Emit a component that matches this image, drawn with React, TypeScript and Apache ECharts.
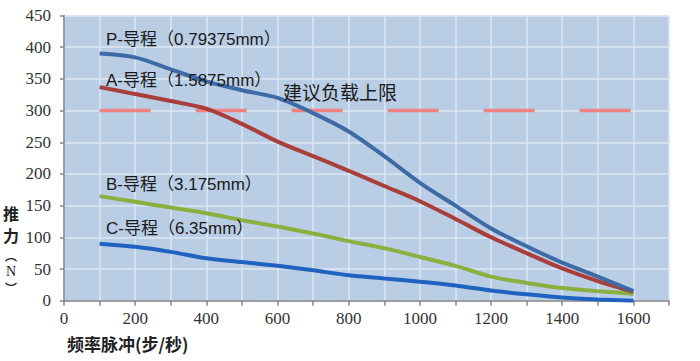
import React, { useEffect, useRef } from "react";
import * as echarts from "echarts";

const xValues = [100, 200, 300, 400, 500, 600, 700, 800, 900, 1000, 1100, 1200, 1300, 1400, 1500, 1600];
const seriesP = [390, 384, 365, 346, 332, 320, 296, 267, 228, 186, 150, 114, 86, 60, 38, 15];
const seriesA = [337, 326, 315, 303, 279, 251, 228, 205, 181, 157, 129, 100, 75, 51, 31, 14];
const seriesB = [165, 156, 147, 138, 127, 117, 106, 94, 83, 69, 55, 38, 28, 20, 15, 11];
const seriesC = [90, 85, 77, 67, 61, 55, 48, 40, 35, 30, 24, 16, 10, 5, 2, 0];
const limitX = [100, 1600];
const limitY = [300, 300];

const seriesNames = ["P-导程（0.79375mm）", "A-导程（1.5875mm）", "B-导程（3.175mm）", "C-导程（6.35mm）"];
const limitName = "建议负载上限";
const xAxisName = "频率脉冲(步/秒)";
const yAxisChars = ["推", "力", "︵", "N", "︶"];

export default function App() {
  const ref = useRef<HTMLDivElement>(null);
  useEffect(() => {
    const chart = echarts.init(ref.current!, null, { renderer: "svg" });
    const pair = (ys: number[]) => xValues.map((x, i) => [x, ys[i]]);
    const lineSeries = (name: string, ys: number[], color: string) => ({
      name,
      type: "line",
      data: pair(ys),
      smooth: 0.3,
      showSymbol: false,
      symbol: "none",
      lineStyle: { color, width: 4 },
    });
    const labelFont = '"Liberation Sans", "Noto Sans CJK SC", sans-serif';
    const txt = (text: string, x: number, y: number, size = 17) => ({
      type: "text",
      x,
      y,
      z: 100,
      style: { text, fill: "#1a1a1a", font: `${size}px ${labelFont}`, textVerticalAlign: "middle" },
    });
    const yNameY = [213, 235, 255, 271, 287];
    const yNameFont = [
      'bold 16px "Noto Sans CJK SC", sans-serif',
      'bold 16px "Noto Sans CJK SC", sans-serif',
      'bold 12px "Noto Sans CJK SC", sans-serif',
      '14px "Liberation Serif", serif',
      'bold 12px "Noto Sans CJK SC", sans-serif',
    ];
    const tickFont = "'Liberation Serif', 'Times New Roman', serif";
    chart.setOption({
      animation: false,
      grid: {
        left: 64,
        right: 31,
        top: 15.5,
        bottom: 60.3,
        show: true,
        backgroundColor: "#B9CDE5",
        borderWidth: 0,
      },
      xAxis: {
        type: "value",
        min: 0,
        max: 1700,
        interval: 100,
        axisLine: { show: true, onZero: false, lineStyle: { color: "#868686", width: 1.5 } },
        axisTick: { show: true, inside: false, length: 5, lineStyle: { color: "#868686", width: 1.5 } },
        axisLabel: {
          margin: 9,
          color: "#333",
          fontSize: 17,
          fontFamily: tickFont,
          formatter: (v: number) => (v % 200 === 0 && v <= 1600 ? String(v) : ""),
        },
        splitLine: { show: true, lineStyle: { color: "#DCE6F2", width: 1.5 } },
      },
      yAxis: {
        type: "value",
        min: 0,
        max: 450,
        interval: 50,
        axisLine: { show: true, lineStyle: { color: "#868686", width: 1.5 } },
        axisTick: { show: true, inside: false, length: 4, lineStyle: { color: "#868686", width: 1.5 } },
        axisLabel: {
          margin: 13,
          color: "#333",
          fontSize: 17,
          fontFamily: tickFont,
        },
        splitLine: { show: true, lineStyle: { color: "#DCE6F2", width: 1.5 } },
      },
      series: [
        {
          name: limitName,
          type: "line",
          data: limitX.map((x, i) => [x, limitY[i]]),
          showSymbol: false,
          symbol: "none",
          lineStyle: { color: "#F08282", width: 3.5, type: [51, 45] },
        },
        lineSeries(seriesNames[3], seriesC, "#1F62C0"),
        lineSeries(seriesNames[2], seriesB, "#8AB040"),
        lineSeries(seriesNames[1], seriesA, "#AA3E3B"),
        lineSeries(seriesNames[0], seriesP, "#3E6BA6"),
      ],
      graphic: [
        txt(seriesNames[0], 106, 39),
        txt(seriesNames[1], 106, 80),
        txt(limitName, 283, 93, 19),
        txt(seriesNames[2], 106, 184),
        txt(seriesNames[3], 106, 228),
        {
          type: "text",
          x: 67,
          y: 343,
          z: 100,
          style: {
            text: xAxisName,
            fill: "#222",
            font: 'bold 17px "Noto Sans CJK SC", sans-serif',
            textVerticalAlign: "middle",
          },
        },
        ...yAxisChars.map((c, i) => ({
          type: "text",
          x: 11,
          y: yNameY[i],
          z: 100,
          style: {
            text: c,
            fill: "#222",
            font: yNameFont[i],
            textAlign: "center",
            textVerticalAlign: "middle",
          },
        })),
      ],
    });
    return () => chart.dispose();
  }, []);
  return <div ref={ref} style={{ width: 700, height: 361, position: "absolute", left: 0, top: 0 }} />;
}
